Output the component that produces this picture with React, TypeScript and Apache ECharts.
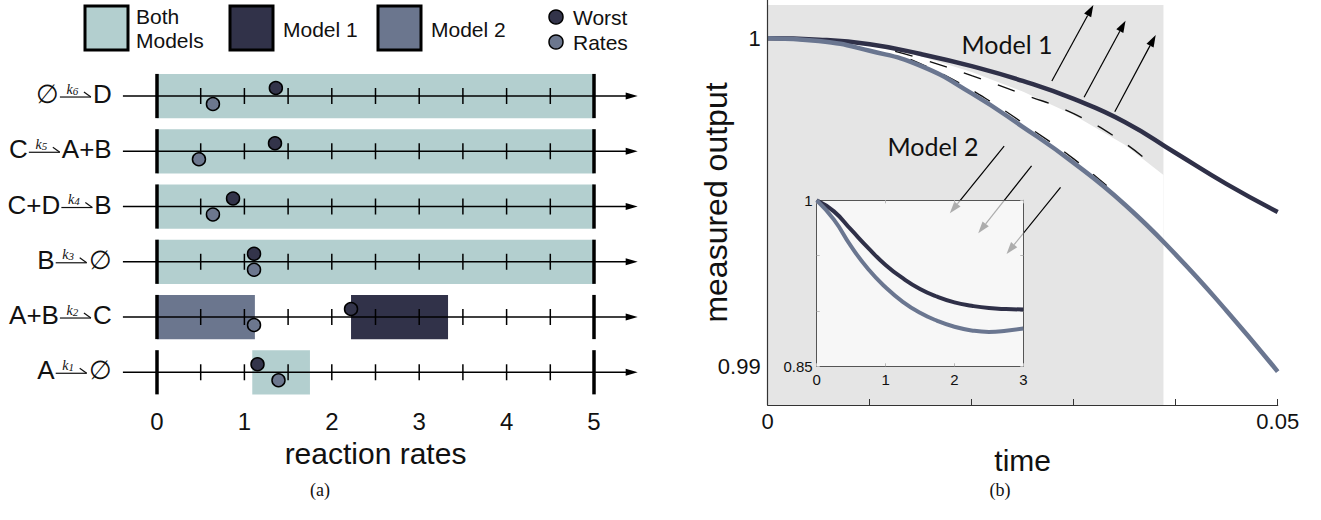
import React, { useEffect, useRef } from "react";
import * as echarts from "echarts";

// ---------------- Panel (a): reaction rates ----------------
const reactions = ["k1", "k2", "k3", "k4", "k5", "k6"]; // bottom to top
const reactants = ["A", "A+B", "B", "C+D", "C", "∅"];
const products = ["∅", "C", "∅", "B", "A+B", "D"];
const rateSubscripts = ["1", "2", "3", "4", "5", "6"];

const bandRow = [5, 4, 3, 2, 1, 1, 0];
const bandStart = [0, 0, 0, 0, 0, 2.22, 1.09];
const bandEnd = [5, 5, 5, 5, 1.12, 3.33, 1.75];
const bandModel = [0, 0, 0, 0, 2, 1, 0]; // 0 both, 1 model 1, 2 model 2

const worstRates = [1.15, 2.22, 1.11, 0.87, 1.35, 1.36];
const nominalRates = [1.39, 1.11, 1.11, 0.64, 0.48, 0.64];

const rateTickLabels = [0, 1, 2, 3, 4, 5];
const rowMinorTicks = [0.5, 1, 1.5, 2, 2.5, 3, 3.5, 4, 4.5];
const rowBoundaryTicks = [0, 5];
const rowLineRange = [-0.39, 5.5];

// ---------------- Panel (b): measured output ----------------
const timeGrid = [0, 0.005, 0.01, 0.015, 0.02, 0.025, 0.03, 0.035, 0.04, 0.045, 0.05];
const model1Output = [1.0, 0.99996, 0.99982, 0.99952, 0.99915, 0.9987, 0.99815, 0.99745, 0.9965, 0.99555, 0.9947];
const model2Output = [1.0, 0.99992, 0.99962, 0.99916, 0.99832, 0.9973, 0.9962, 0.99493, 0.9934, 0.99168, 0.98983];

const envelopeTime = [0, 0.005, 0.01, 0.015, 0.02, 0.025, 0.03, 0.035, 0.0388];
const envelopeUpper = [1.0, 0.99996, 0.9998, 0.99945, 0.99897, 0.99838, 0.99766, 0.99675, 0.99583];
const envelopeLower = [1.0, 0.99992, 0.99962, 0.99916, 0.99832, 0.9973, 0.9962, 0.99493, 0.99379];

const dashedUpperTime = [0.0125, 0.015, 0.02, 0.025, 0.03, 0.035, 0.038];
const dashedUpper = [0.9996, 0.99938, 0.99886, 0.9983, 0.9977, 0.9968, 0.99605];
const dashedLowerTime = [0.014, 0.018, 0.022, 0.026, 0.03, 0.0335];
const dashedLower = [0.99936, 0.99877, 0.99804, 0.9972, 0.99632, 0.99543];

const shadedTime = [0, 0.0388];
const shadedOutput = [0.98881, 1.00102];

const outputAxisRange = [0.98881, 1.00117];
const outputTickLabels = [0.99, 1];
const timeTickLabels = [0, 0.05];
const timeTicks = [0.01, 0.02, 0.03, 0.04, 0.05];

// arrows: [tailTime, tailOutput, headTime, headOutput]
const model1Arrows = [
  [0.02786, 0.9987, 0.03193, 1.00102],
  [0.03102, 0.9982, 0.03508, 1.00054],
  [0.03403, 0.99776, 0.03804, 1.0001],
];
const model2Arrows = [
  [0.02318, 0.99671, 0.01786, 0.99466],
  [0.02587, 0.99611, 0.02064, 0.99405],
  [0.02871, 0.99545, 0.02342, 0.99342],
];

// inset
const insetTime = [0, 0.25, 0.5, 0.75, 1, 1.25, 1.5, 1.75, 2, 2.25, 2.5, 2.75, 3];
const insetModel1 = [1.0, 0.99, 0.9734, 0.9568, 0.9416, 0.9296, 0.9199, 0.9129, 0.9078, 0.9047, 0.9026, 0.9017, 0.9014];
const insetModel2 = [1.0, 0.9825, 0.9583, 0.9377, 0.9214, 0.9083, 0.8984, 0.8911, 0.8857, 0.8824, 0.8811, 0.8821, 0.8842];
const insetOutputLabels = [0.85, 1];

// ---------------- styles ----------------
const SANS = '"Liberation Sans", Arial, Helvetica, sans-serif';
const SERIF = '"Liberation Serif", "Times New Roman", serif';
const HUMAN = 'Lato, "Open Sans", sans-serif';
const BOTH_C = "#b3cfcf";
const M1_C = "#313249";
const M2_C = "#6b768e";
const bandColors = [BOTH_C, M1_C, M2_C];
const CURVE1 = "#2f3048";
const CURVE2 = "#6a7690";
const SHADE = "#e5e5e5";

let measureCtx: CanvasRenderingContext2D | null = null;
function measure(text: string, font: string): number {
  if (!measureCtx) measureCtx = document.createElement("canvas").getContext("2d");
  if (!measureCtx) return text.length * 14;
  measureCtx.font = font;
  return measureCtx.measureText(text).width;
}

function arrowShape(a: number[], b: number[], color: string) {
  const dx = b[0] - a[0];
  const dy = b[1] - a[1];
  const len = Math.sqrt(dx * dx + dy * dy);
  const ux = dx / len;
  const uy = dy / len;
  const hl = 12;
  const hw = 4;
  const bx = b[0] - ux * hl;
  const by = b[1] - uy * hl;
  return [
    { type: "line", shape: { x1: a[0], y1: a[1], x2: bx, y2: by }, style: { stroke: color, lineWidth: 1.2 } },
    {
      type: "polygon",
      shape: { points: [[b[0], b[1]], [bx - uy * hw, by + ux * hw], [bx + uy * hw, by - ux * hw]] },
      style: { fill: color },
    },
  ];
}

function buildOption(): any {
  const speciesFont = `26px ${SANS}`;
  return {
    animation: false,
    backgroundColor: "#ffffff",
    grid: [
      { left: 157, right: 727, top: 68.4, height: 331.5 },
      { left: 767.7, right: 43.3, top: 0, bottom: 115 },
      { left: 816.7, right: 297.7, top: 200.3, bottom: 153.7 },
    ],
    xAxis: [
      {
        gridIndex: 0, type: "value", min: 0, max: 5, interval: 1,
        axisLine: { show: false }, axisTick: { show: false }, splitLine: { show: false },
        axisLabel: { fontSize: 24, color: "#111", margin: 10, fontFamily: SANS, customValues: rateTickLabels },
        name: "reaction rates", nameLocation: "middle", nameGap: 38,
        nameTextStyle: { fontSize: 30, color: "#111", fontFamily: SANS },
      },
      {
        gridIndex: 1, type: "value", min: 0, max: 0.05, z: 10,
        axisLine: { show: true, onZero: false, lineStyle: { color: "#333", width: 1.2 } },
        axisTick: { show: true, inside: true, length: 6, customValues: timeTicks, lineStyle: { color: "#333" } },
        axisLabel: { fontSize: 22, color: "#111", margin: 5, fontFamily: SANS, customValues: timeTickLabels,
          formatter: (v: number) => (v === 0 ? "0" : String(v)) },
        splitLine: { show: false },
        name: "time", nameLocation: "middle", nameGap: 40,
        nameTextStyle: { fontSize: 30, color: "#111", fontFamily: SANS },
      },
      {
        gridIndex: 2, type: "value", min: 0, max: 3, interval: 1, position: "bottom", z: 7,
        axisLine: { show: true, onZero: false, lineStyle: { color: "#555", width: 1 } },
        axisTick: { show: true, inside: true, length: 3, lineStyle: { color: "#bbb" } },
        axisLabel: { fontSize: 15, color: "#111", margin: 6, fontFamily: SANS },
        splitLine: { show: false },
      },
      {
        gridIndex: 2, type: "value", min: 0, max: 3, interval: 1, position: "top", z: 7,
        axisLine: { show: true, onZero: false, lineStyle: { color: "#555", width: 1 } },
        axisTick: { show: true, inside: true, length: 3, lineStyle: { color: "#bbb" } },
        axisLabel: { show: false }, splitLine: { show: false },
      },
    ],
    yAxis: [
      { gridIndex: 0, type: "category", data: reactions, show: false },
      {
        gridIndex: 1, type: "value", min: outputAxisRange[0], max: outputAxisRange[1], z: 10,
        axisLine: { show: true, onZero: false, lineStyle: { color: "#333", width: 1.2 } },
        axisTick: { show: false }, splitLine: { show: false },
        axisLabel: { fontSize: 22, color: "#111", margin: 7, fontFamily: SANS, customValues: outputTickLabels,
          formatter: (v: number) => String(Math.round(v * 100) / 100) },
        name: "measured output", nameLocation: "middle", nameGap: 36, nameRotate: 90, nameMoveOverlap: false,
        nameTextStyle: { fontSize: 32, color: "#111", fontFamily: SANS },
      },
      {
        gridIndex: 2, type: "value", min: 0.85, max: 1, interval: 0.05, position: "left", z: 7,
        axisLine: { show: true, onZero: false, lineStyle: { color: "#555", width: 1 } },
        axisTick: { show: true, inside: true, length: 3, lineStyle: { color: "#bbb" } },
        axisLabel: { fontSize: 15, color: "#111", margin: 4, fontFamily: SANS, customValues: insetOutputLabels,
          formatter: (v: number) => String(Math.round(v * 100) / 100) },
        splitLine: { show: false },
      },
      {
        gridIndex: 2, type: "value", min: 0.85, max: 1, interval: 0.05, position: "right", z: 7,
        axisLine: { show: true, onZero: false, lineStyle: { color: "#555", width: 1 } },
        axisTick: { show: true, inside: true, length: 3, lineStyle: { color: "#bbb" } },
        axisLabel: { show: false }, splitLine: { show: false },
      },
    ],
    series: [
      // ---------- panel (a) ----------
      {
        type: "custom", name: "bands", xAxisIndex: 0, yAxisIndex: 0, z: 1, clip: false,
        encode: { x: [0, 1], y: 2 },
        data: bandStart.map((s, i) => [s, bandEnd[i], bandRow[i], bandModel[i]]),
        renderItem: (params: any, api: any) => {
          const r = api.value(2);
          const p0 = api.coord([api.value(0), r]);
          const p1 = api.coord([api.value(1), r]);
          const h = api.size([0, 1])[1] * 0.8;
          return {
            type: "rect",
            shape: { x: p0[0], y: p0[1] - h / 2, width: p1[0] - p0[0], height: h },
            style: { fill: bandColors[api.value(3)] },
          };
        },
      },
      {
        type: "custom", name: "rowAxes", xAxisIndex: 0, yAxisIndex: 0, z: 3, clip: false,
        encode: { x: 0, y: 1 },
        data: reactions.map((_, i) => [0, i]),
        renderItem: (params: any, api: any) => {
          const r = api.value(1);
          const h = api.size([0, 1])[1] * 0.8;
          const a = api.coord([rowLineRange[0], r]);
          const b = api.coord([rowLineRange[1], r]);
          const children: any[] = [
            { type: "line", shape: { x1: a[0], y1: a[1], x2: b[0] - 10, y2: b[1] }, style: { stroke: "#000", lineWidth: 1.6 } },
            { type: "polygon", shape: { points: [[b[0], b[1]], [b[0] - 12, b[1] - 3.5], [b[0] - 12, b[1] + 3.5]] }, style: { fill: "#000" } },
          ];
          rowMinorTicks.forEach((t) => {
            const p = api.coord([t, r]);
            children.push({ type: "line", shape: { x1: p[0], y1: p[1] - 8, x2: p[0], y2: p[1] + 8 }, style: { stroke: "#000", lineWidth: 1.5 } });
          });
          rowBoundaryTicks.forEach((t) => {
            const p = api.coord([t, r]);
            children.push({ type: "line", shape: { x1: p[0], y1: p[1] - h / 2, x2: p[0], y2: p[1] + h / 2 }, style: { stroke: "#000", lineWidth: 3.5 } });
          });
          return { type: "group", children };
        },
      },
      {
        type: "custom", name: "reactionLabels", xAxisIndex: 0, yAxisIndex: 0, z: 3, clip: false,
        encode: { x: 0, y: 1 },
        data: reactions.map((_, i) => [0, i]),
        renderItem: (params: any, api: any) => {
          const i = api.value(1);
          const p = api.coord([0, i]);
          const right = p[0] - 45.3;
          const y = p[1];
          const wR = measure(products[i], speciesFont);
          const arrowEnd = right - wR - 2;
          const arrowStart = arrowEnd - 31;
          const ly = y + 1;
          return {
            type: "group",
            children: [
              { type: "text", style: { text: products[i], x: right, y: y - 2, align: "right", verticalAlign: "middle", fontSize: 26, fontFamily: SANS, fill: "#111" } },
              { type: "text", style: { text: reactants[i], x: arrowStart - 1, y: y - 2, align: "right", verticalAlign: "middle", fontSize: 26, fontFamily: SANS, fill: "#111" } },
              { type: "line", shape: { x1: arrowStart, y1: ly, x2: arrowEnd, y2: ly }, style: { stroke: "#111", lineWidth: 1.2 } },
              { type: "line", shape: { x1: arrowEnd - 7, y1: ly - 5, x2: arrowEnd, y2: ly }, style: { stroke: "#111", lineWidth: 1.2 } },
              {
                type: "text",
                style: {
                  text: `{k|k}{n|${rateSubscripts[i]}}`,
                  x: (arrowStart + arrowEnd) / 2 - 3, y: ly - 1, align: "center", verticalAlign: "bottom",
                  rich: {
                    k: { fontSize: 14, fontStyle: "italic", fontFamily: SERIF, fill: "#111", verticalAlign: "bottom" },
                    n: { fontSize: 11, fontStyle: "italic", fontFamily: SERIF, fill: "#111", verticalAlign: "bottom", padding: [3, 0, 0, 0] },
                  },
                },
              },
            ],
          };
        },
      },
      {
        type: "scatter", name: "Worst", xAxisIndex: 0, yAxisIndex: 0, z: 5,
        data: worstRates.map((v, i) => [v, i]),
        symbolSize: 13, symbolOffset: [0, -8],
        itemStyle: { color: "#33344a", borderColor: "#000", borderWidth: 1.5, opacity: 1 },
      },
      {
        type: "scatter", name: "Rates", xAxisIndex: 0, yAxisIndex: 0, z: 5,
        data: nominalRates.map((v, i) => [v, i]),
        symbolSize: 13, symbolOffset: [0, 8],
        itemStyle: { color: "#6c778e", borderColor: "#000", borderWidth: 1.5, opacity: 1 },
      },
      // ---------- panel (b) ----------
      {
        type: "custom", name: "shaded", xAxisIndex: 1, yAxisIndex: 1, z: 1, clip: false,
        encode: { x: 0, y: 1 },
        data: [[shadedTime[0], shadedOutput[0]]],
        renderItem: (params: any, api: any) => {
          const p0 = api.coord([shadedTime[0], shadedOutput[1]]);
          const p1 = api.coord([shadedTime[1], shadedOutput[0]]);
          return { type: "rect", shape: { x: p0[0], y: p0[1], width: p1[0] - p0[0], height: p1[1] - p0[1] }, style: { fill: SHADE } };
        },
      },
      {
        type: "custom", name: "envelope", xAxisIndex: 1, yAxisIndex: 1, z: 2, clip: false,
        encode: { x: 0, y: 1 },
        data: [[envelopeTime[0], envelopeUpper[0]]],
        renderItem: (params: any, api: any) => {
          const pts: number[][] = [];
          envelopeTime.forEach((t, i) => pts.push(api.coord([t, envelopeUpper[i]])));
          for (let i = envelopeTime.length - 1; i >= 0; i--) pts.push(api.coord([envelopeTime[i], envelopeLower[i]]));
          return { type: "polygon", shape: { points: pts }, style: { fill: "#ffffff" } };
        },
      },
      {
        type: "line", name: "dashed upper", xAxisIndex: 1, yAxisIndex: 1, z: 3, smooth: true, showSymbol: false,
        data: dashedUpperTime.map((t, i) => [t, dashedUpper[i]]),
        lineStyle: { color: "#111", width: 1.4, type: [18, 18] },
      },
      {
        type: "line", name: "dashed lower", xAxisIndex: 1, yAxisIndex: 1, z: 3, smooth: true, showSymbol: false,
        data: dashedLowerTime.map((t, i) => [t, dashedLower[i]]),
        lineStyle: { color: "#111", width: 1.4, type: [18, 18] },
      },
      {
        type: "line", name: "Model 1", xAxisIndex: 1, yAxisIndex: 1, z: 4, smooth: true, showSymbol: false,
        data: timeGrid.map((t, i) => [t, model1Output[i]]),
        lineStyle: { color: CURVE1, width: 4.5 },
      },
      {
        type: "line", name: "Model 2", xAxisIndex: 1, yAxisIndex: 1, z: 4, smooth: true, showSymbol: false,
        data: timeGrid.map((t, i) => [t, model2Output[i]]),
        lineStyle: { color: CURVE2, width: 4.5 },
      },
      {
        type: "custom", name: "arrows", xAxisIndex: 1, yAxisIndex: 1, z: 5, clip: false,
        encode: { x: 0, y: 1 },
        data: [...model1Arrows, ...model2Arrows],
        renderItem: (params: any, api: any) => {
          const a = api.coord([api.value(0), api.value(1)]);
          const b = api.coord([api.value(2), api.value(3)]);
          return { type: "group", children: arrowShape(a, b, "#000") };
        },
      },
      {
        type: "custom", name: "insetBackground", xAxisIndex: 2, yAxisIndex: 2, z: 6, clip: false,
        encode: { x: 0, y: 1 },
        data: [[0, 1]],
        renderItem: (params: any, api: any) => {
          const p0 = api.coord([0, 1]);
          const p1 = api.coord([3, 0.85]);
          return { type: "rect", shape: { x: p0[0], y: p0[1], width: p1[0] - p0[0], height: p1[1] - p0[1] }, style: { fill: "rgba(255,255,255,0.68)" } };
        },
      },
      {
        type: "line", name: "inset Model 1", xAxisIndex: 2, yAxisIndex: 2, z: 8, smooth: true, showSymbol: false,
        data: insetTime.map((t, i) => [t, insetModel1[i]]),
        lineStyle: { color: CURVE1, width: 4 },
      },
      {
        type: "line", name: "inset Model 2", xAxisIndex: 2, yAxisIndex: 2, z: 8, smooth: true, showSymbol: false,
        data: insetTime.map((t, i) => [t, insetModel2[i]]),
        lineStyle: { color: CURVE2, width: 4 },
      },
    ],
    graphic: [
      // legend
      { type: "rect", shape: { x: 85, y: 6, width: 43, height: 44 }, style: { fill: BOTH_C, stroke: "#000", lineWidth: 3 } },
      { type: "text", x: 136, y: 28, style: { text: "Both\nModels", fontSize: 21, lineHeight: 24, fontFamily: SANS, fill: "#111", verticalAlign: "middle" } },
      { type: "rect", shape: { x: 230, y: 6, width: 43, height: 44 }, style: { fill: M1_C, stroke: "#000", lineWidth: 3 } },
      { type: "text", x: 283, y: 29, style: { text: "Model 1", fontSize: 21, fontFamily: SANS, fill: "#111", verticalAlign: "middle" } },
      { type: "rect", shape: { x: 378, y: 6, width: 43, height: 44 }, style: { fill: M2_C, stroke: "#000", lineWidth: 3 } },
      { type: "text", x: 431, y: 29, style: { text: "Model 2", fontSize: 21, fontFamily: SANS, fill: "#111", verticalAlign: "middle" } },
      { type: "circle", shape: { cx: 556, cy: 17, r: 7 }, style: { fill: "#33344a", stroke: "#000", lineWidth: 1.5 } },
      { type: "circle", shape: { cx: 556, cy: 42, r: 7 }, style: { fill: "#6c778e", stroke: "#000", lineWidth: 1.5 } },
      { type: "text", x: 573, y: 17, style: { text: "Worst", fontSize: 21, fontFamily: SANS, fill: "#111", verticalAlign: "middle" } },
      { type: "text", x: 573, y: 42, style: { text: "Rates", fontSize: 21, fontFamily: SANS, fill: "#111", verticalAlign: "middle" } },
      // annotations
      { type: "text", x: 1007, y: 44, z: 20, style: { text: "Model 1", fontSize: 25, fontFamily: HUMAN, fill: "#111", align: "center", verticalAlign: "middle" } },
      { type: "text", x: 933, y: 146, z: 20, style: { text: "Model 2", fontSize: 25, fontFamily: HUMAN, fill: "#111", align: "center", verticalAlign: "middle" } },
      // captions
      { type: "text", x: 320, y: 490, style: { text: "(a)", fontSize: 18, fontFamily: SERIF, fill: "#111", align: "center", verticalAlign: "middle" } },
      { type: "text", x: 1000, y: 490, style: { text: "(b)", fontSize: 18, fontFamily: SERIF, fill: "#111", align: "center", verticalAlign: "middle" } },
    ],
  };
}

export default function App() {
  const ref = useRef<HTMLDivElement>(null);
  useEffect(() => {
    if (!ref.current) return;
    const chart = echarts.init(ref.current, null, { renderer: "svg" });
    chart.setOption(buildOption());
    return () => chart.dispose();
  }, []);
  return <div ref={ref} style={{ position: "absolute", left: 0, top: 0, width: 1321, height: 520 }} />;
}
